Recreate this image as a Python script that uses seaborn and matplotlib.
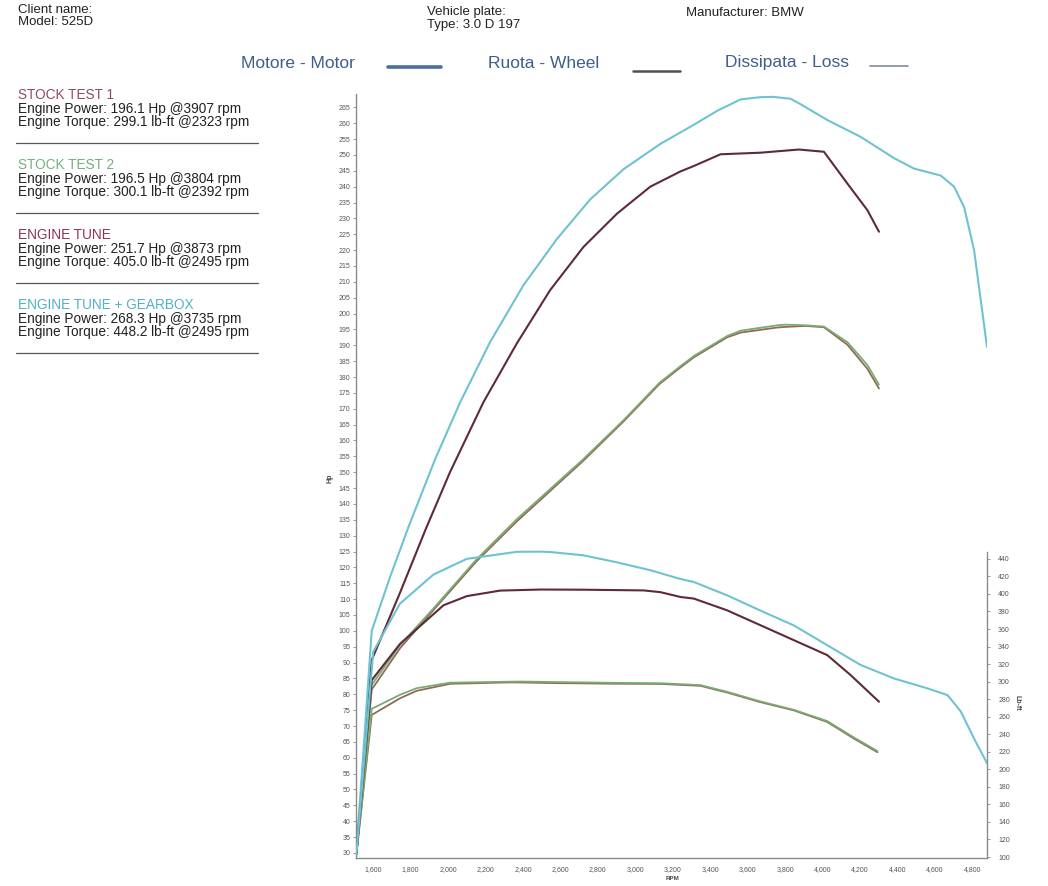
import matplotlib
matplotlib.use("Agg")
import matplotlib.pyplot as plt
from matplotlib.lines import Line2D
import seaborn as sns
import pandas as pd

# ---------------- data ----------------
# ENGINE TUNE + GEARBOX
gb_hp_rpm = [1510, 1592, 1690, 1790, 1930, 2064, 2224, 2403, 2581, 2759, 2937, 3134, 3312, 3440,
             3562, 3668, 3735, 3829, 3882, 4025, 4203, 4381, 4488, 4631, 4702, 4756, 4809, 4878]
gb_hp = [30, 100, 117, 133, 154, 172, 191, 209, 223.5, 236, 245.5, 253.5, 259.5, 264,
         267.5, 268.2, 268.3, 267.7, 266, 261, 255.7, 249, 245.7, 243.5, 240, 233.5, 220, 189.5]
gb_tq_rpm = [1510, 1600, 1743, 1921, 2100, 2367, 2495, 2545, 2723, 2902, 3080, 3241, 3312, 3490,
             3668, 3847, 4025, 4203, 4381, 4560, 4667, 4738, 4809, 4878]
gb_tq = [103, 334, 389, 422, 440, 448.0, 448.2, 447.8, 444, 436, 427, 417, 413.6, 398.4,
         381, 364, 341.5, 319, 303.6, 292.3, 284.6, 266, 235, 207]

# ENGINE TUNE
tune_hp_rpm = [1510, 1592, 1743, 1880, 2010, 2188, 2367, 2545, 2723, 2902, 3080, 3241, 3312,
               3455, 3668, 3873, 4007, 4132, 4239, 4301]
tune_hp = [30, 90.8, 112, 132, 150, 172, 190.6, 207.4, 221, 231.5, 240, 244.8, 246.5,
           250.2, 250.7, 251.7, 251, 241, 232.6, 225.8]
tune_tq_rpm = [1510, 1592, 1743, 1975, 2100, 2278, 2495, 2723, 3044, 3134, 3241, 3312, 3490,
               3668, 3847, 4025, 4150, 4301]
tune_tq = [103, 301.7, 343, 387, 397.5, 403.8, 405.0, 404.8, 404, 402, 396.5, 394.7, 381.3,
           364.3, 347.2, 330.2, 307.4, 277.1]

# STOCK TEST 1 / STOCK TEST 2
stock_hp_rpm = [1510, 1592, 1743, 1921, 2153, 2367, 2720, 2937, 3129, 3236, 3312, 3490, 3562,
                3758, 3804, 3907, 4007, 4132, 4239, 4301]
stock1_hp = [30, 81.5, 94.5, 106.5, 122, 134.5, 153.5, 166, 177.8, 182.8, 186.2, 192.5, 194.0,
             195.6, 195.8, 196.1, 195.7, 190.2, 182.6, 176.4]
stock2_hp = [30, 83.0, 95.5, 107.0, 122.6, 135.2, 154.0, 166.4, 178.2, 183.2, 186.6, 192.9, 194.6,
             196.3, 196.5, 196.3, 195.9, 191.0, 183.8, 177.6]
stock_tq_rpm = [1510, 1592, 1743, 1832, 2010, 2323, 2392, 2545, 2902, 3134, 3348, 3490, 3668,
                3847, 4025, 4168, 4293]
stock1_tq = [103, 262, 281, 289.5, 297.5, 299.1, 299.0, 298.4, 297.6, 297.4, 295.2, 287.6, 276.6,
             267.2, 254.0, 235.0, 219.5]
stock2_tq = [103, 269, 285, 292.5, 298.8, 299.9, 300.1, 299.6, 298.6, 298.2, 296.0, 288.4, 277.4,
             267.8, 255.0, 236.2, 220.8]

x_ticks = list(range(1600, 4801, 200))
hp_ticks = list(range(30, 266, 5))
tq_ticks = list(range(100, 441, 20))

tests = [
    ("STOCK TEST 1", "Engine Power: 196.1 Hp @3907 rpm", "Engine Torque: 299.1 lb-ft @2323 rpm"),
    ("STOCK TEST 2", "Engine Power: 196.5 Hp @3804 rpm", "Engine Torque: 300.1 lb-ft @2392 rpm"),
    ("ENGINE TUNE", "Engine Power: 251.7 Hp @3873 rpm", "Engine Torque: 405.0 lb-ft @2495 rpm"),
    ("ENGINE TUNE + GEARBOX", "Engine Power: 268.3 Hp @3735 rpm", "Engine Torque: 448.2 lb-ft @2495 rpm"),
]
title_colors = ["#8e4b62", "#74b07c", "#8a3558", "#4eb3c6"]
legend_labels = ["Motore - Motor", "Ruota - Wheel", "Dissipata - Loss"]

# ---------------- style ----------------
sns.set_style("white")
plt.rcParams['font.family'] = ['Liberation Sans', 'DejaVu Sans']

W, H = 1048, 886
fig = plt.figure(figsize=(W / 100, H / 100), dpi=100)
fig.patch.set_facecolor("white")

def fx(px):
    return px / W

def fy(py):
    return 1 - py / H

ax = fig.add_axes([fx(356), fy(858), (987 - 356) / W, (858 - 94) / H])
ax2 = ax.twinx()

c_cyan = "#6fc2d2"
c_tune = "#5e2a38"
c_s1 = "#8c6c58"
c_s2 = "#7aab72"

def draw(axis, xs, ys, color, lw=1.4):
    df = pd.DataFrame({"rpm": xs, "val": ys})
    sns.lineplot(data=df, x="rpm", y="val", ax=axis, color=color, linewidth=lw,
                 estimator=None, sort=False, legend=False)

draw(ax, stock_hp_rpm, stock1_hp, c_s1, 1.3)
draw(ax, stock_hp_rpm, stock2_hp, c_s2, 1.3)
draw(ax, tune_hp_rpm, tune_hp, c_tune, 1.5)
draw(ax, gb_hp_rpm, gb_hp, c_cyan, 1.5)
draw(ax2, stock_tq_rpm, stock1_tq, c_s1, 1.3)
draw(ax2, stock_tq_rpm, stock2_tq, c_s2, 1.3)
draw(ax2, tune_tq_rpm, tune_tq, c_tune, 1.5)
draw(ax2, gb_tq_rpm, gb_tq, c_cyan, 1.5)

ax.set_xlim(1508, 4878)
ax.set_ylim(28.4, 269.2)
ax2.set_ylim(98.9, 970)

spine_c = "#8a8a8a"
for a in (ax, ax2):
    a.set_xlabel("")
    a.set_ylabel("")
    a.spines["top"].set_visible(False)
    a.grid(False)
ax.spines["right"].set_visible(False)
ax2.spines["left"].set_visible(False)
ax2.spines["bottom"].set_visible(False)
ax.spines["left"].set_color(spine_c)
ax.spines["bottom"].set_color(spine_c)
ax2.spines["right"].set_color(spine_c)
ax2.spines["right"].set_bounds(98.9, 448)
for s in ("left", "bottom"):
    ax.spines[s].set_linewidth(1.0)
ax2.spines["right"].set_linewidth(1.0)

ax.set_xticks(x_ticks)
ax.set_xticklabels([f"{v:,}" for v in x_ticks], fontsize=5, color="#555555")
ax.set_yticks(hp_ticks)
ax.set_yticklabels([str(v) for v in hp_ticks], fontsize=5, color="#555555")
ax2.set_yticks(tq_ticks)
ax2.set_yticklabels([str(v) for v in tq_ticks], fontsize=5, color="#555555")
ax.tick_params(axis="x", length=2, width=0.6, pad=4, color=spine_c)
ax.tick_params(axis="y", length=2, width=0.6, pad=2, color=spine_c)
ax2.tick_params(axis="y", length=2, width=0.6, pad=6, color=spine_c)

fig.text(fx(673), fy(879), "RPM", fontsize=4.5, fontweight="bold", color="#444444",
         ha="center", va="center")
fig.text(fx(330), fy(478), "Hp", fontsize=5, fontweight="bold", color="#444444",
         ha="center", va="center", rotation=90)
fig.text(fx(1017), fy(703), "Lb-ft", fontsize=5, fontweight="bold", color="#444444",
         ha="center", va="center", rotation=270)

# ---------------- header ----------------
hc = "#222222"
fig.text(fx(18), fy(10), "Client name:", fontsize=9.5, color=hc, va="center")
fig.text(fx(18), fy(22), "Model: 525D", fontsize=9.5, color=hc, va="center")
fig.text(fx(427), fy(12), "Vehicle plate:", fontsize=9.5, color=hc, va="center")
fig.text(fx(427), fy(25), "Type: 3.0 D 197", fontsize=9.5, color=hc, va="center")
fig.text(fx(686), fy(13), "Manufacturer: BMW", fontsize=9.5, color=hc, va="center")

# legend row
lc = "#3d5f8a"
leg_x = [241, 488, 725]
leg_line = [(388, 441, 67, "#4a70a0", 2.6), (633, 680, 71, "#505050", 1.8), (870, 908, 66, "#7f8c99", 1.2)]
for lab, x0, (l0, l1, ly, col, lw) in zip(legend_labels, leg_x, leg_line):
    fig.text(fx(x0), fy(63), lab, fontsize=12.5, color=lc, va="center")
    fig.add_artist(Line2D([fx(l0), fx(l1)], [fy(ly), fy(ly)], transform=fig.transFigure,
                          color=col, linewidth=lw))

# ---------------- left info panel ----------------
block_top = [95, 165, 235, 305]
rule_y = [143, 213, 283, 353]
for (title, p, t), col, yt, yr in zip(tests, title_colors, block_top, rule_y):
    fig.text(fx(18), fy(yt), title, fontsize=9.8, color=col, va="center")
    fig.text(fx(18), fy(yt + 14), p, fontsize=9.8, color=hc, va="center")
    fig.text(fx(18), fy(yt + 27), t, fontsize=9.8, color=hc, va="center")
    fig.add_artist(Line2D([fx(16), fx(258)], [fy(yr), fy(yr)], transform=fig.transFigure,
                          color="#555555", linewidth=0.9))

fig.savefig("out.png", dpi=100, facecolor="white")
